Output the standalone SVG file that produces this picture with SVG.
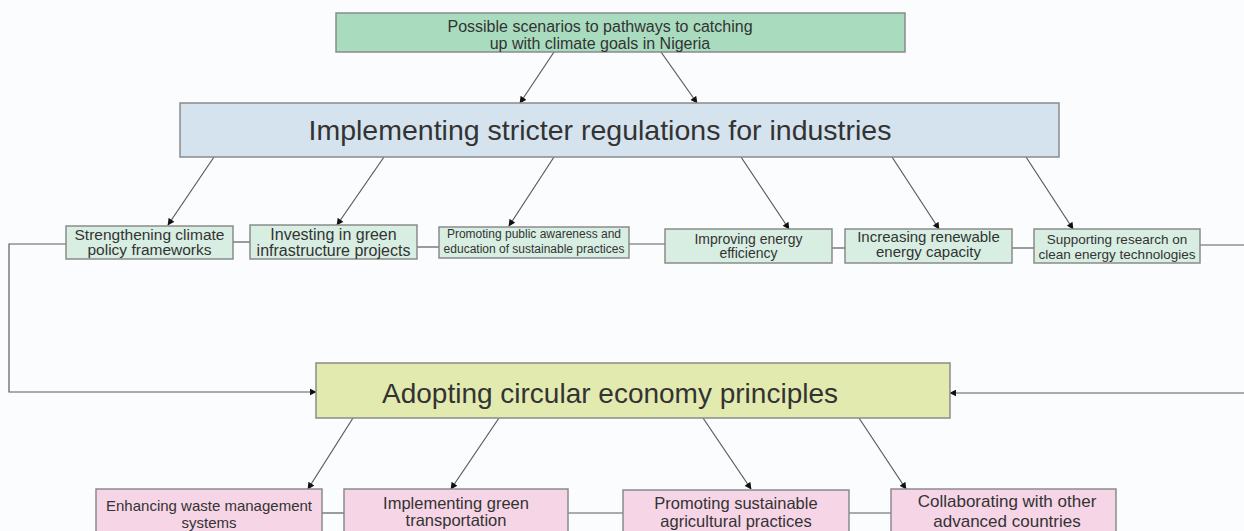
<svg xmlns="http://www.w3.org/2000/svg" width="1244" height="531" viewBox="0 0 1244 531">
  <style>
    text { font-family: "Liberation Sans", Arial, sans-serif; fill: #333; text-anchor: middle; }
    .box { stroke: #8a8a8a; stroke-width: 1.5; }
    .top { fill: #a9dcbf; }
    .blue { fill: #d5e3ee; }
    .lg { fill: #d8eee2; }
    .yg { fill: #e2eab0; }
    .pink { fill: #f6d5e6; }
    .conn { stroke: #5a5a5a; stroke-width: 1.2; fill: none; }
    .arr { marker-end: url(#ah); }
  </style>
  <defs>
    <marker id="ah" viewBox="0 0 10 10" refX="9" refY="5" markerWidth="7" markerHeight="7" markerUnits="userSpaceOnUse" orient="auto">
      <path d="M0,0 L10,5 L0,10 z" fill="#111"/>
    </marker>
  </defs>
  <rect width="1244" height="531" fill="#fbfcfe"/>

  <g id="connectors">
    <line class="conn arr" x1="554" y1="52" x2="520" y2="103"/>
    <line class="conn arr" x1="661" y1="52" x2="697" y2="103"/>
    <line class="conn arr" x1="214" y1="157" x2="168" y2="225"/>
    <line class="conn arr" x1="384" y1="157" x2="337" y2="225"/>
    <line class="conn arr" x1="554" y1="157" x2="509" y2="226"/>
    <line class="conn arr" x1="741" y1="157" x2="789" y2="229"/>
    <line class="conn arr" x1="892" y1="157" x2="939" y2="229"/>
    <line class="conn arr" x1="1026" y1="157" x2="1073" y2="229"/>
    <line class="conn" x1="233" y1="242" x2="250" y2="242"/>
    <line class="conn" x1="417" y1="247" x2="439" y2="247"/>
    <line class="conn" x1="629" y1="244" x2="665" y2="244"/>
    <line class="conn" x1="832" y1="248" x2="845" y2="248"/>
    <line class="conn" x1="1012" y1="248" x2="1034" y2="248"/>
    <line class="conn" x1="1200" y1="245" x2="1250" y2="245"/>
    <polyline class="conn arr" points="66,244 9,244 9,392 316,392"/>
    <line class="conn arr" x1="1250" y1="393" x2="950" y2="393"/>
    <line class="conn arr" x1="353" y1="418" x2="308" y2="489"/>
    <line class="conn arr" x1="499" y1="418" x2="451" y2="489"/>
    <line class="conn arr" x1="703" y1="418" x2="751" y2="489"/>
    <line class="conn arr" x1="859" y1="418" x2="906" y2="489"/>
    <line class="conn" x1="322" y1="513" x2="344" y2="513"/>
    <line class="conn" x1="568" y1="513" x2="623" y2="513"/>
    <line class="conn" x1="849" y1="513" x2="891" y2="513"/>
  </g>

  <g id="root">
    <rect class="box top" x="336" y="13" width="569" height="39"/>
    <text x="600" y="31.5" font-size="16">Possible scenarios to pathways to catching</text>
    <text x="600" y="48.5" font-size="16">up with climate goals in Nigeria</text>
  </g>

  <g id="regulations">
    <rect class="box blue" x="180" y="103" width="879" height="54"/>
    <text x="600" y="140" font-size="28.5">Implementing stricter regulations for industries</text>
  </g>

  <g id="n-policy">
    <rect class="box lg" x="66" y="226" width="167" height="33"/>
    <text x="149.5" y="240" font-size="15.5">Strengthening climate</text>
    <text x="149.5" y="255" font-size="15.5">policy frameworks</text>
  </g>
  <g id="n-infra">
    <rect class="box lg" x="250" y="225" width="167" height="34"/>
    <text x="333.5" y="239.5" font-size="16">Investing in green</text>
    <text x="333.5" y="255.5" font-size="16">infrastructure projects</text>
  </g>
  <g id="n-awareness">
    <rect class="box lg" x="439" y="227" width="190" height="31"/>
    <text x="534" y="238" font-size="12">Promoting public awareness and</text>
    <text x="534" y="253" font-size="12">education of sustainable practices</text>
  </g>
  <g id="n-efficiency">
    <rect class="box lg" x="665" y="229" width="167" height="34"/>
    <text x="748.5" y="244" font-size="14">Improving energy</text>
    <text x="748.5" y="258" font-size="14">efficiency</text>
  </g>
  <g id="n-renewable">
    <rect class="box lg" x="845" y="229" width="167" height="34"/>
    <text x="928.5" y="242" font-size="15">Increasing renewable</text>
    <text x="928.5" y="257" font-size="15">energy capacity</text>
  </g>
  <g id="n-research">
    <rect class="box lg" x="1034" y="229" width="166" height="34"/>
    <text x="1117" y="244" font-size="13.5">Supporting research on</text>
    <text x="1117" y="259" font-size="13.5">clean energy technologies</text>
  </g>

  <g id="circular">
    <rect class="box yg" x="316" y="363" width="634" height="55"/>
    <text x="610" y="403" font-size="28">Adopting circular economy principles</text>
  </g>

  <g id="n-waste">
    <rect class="box pink" x="96" y="489" width="226" height="60"/>
    <text x="209" y="511" font-size="15">Enhancing waste management</text>
    <text x="209" y="527.5" font-size="15">systems</text>
  </g>
  <g id="n-transport">
    <rect class="box pink" x="344" y="489" width="224" height="60"/>
    <text x="456" y="509" font-size="16.5">Implementing green</text>
    <text x="456" y="526" font-size="16.5">transportation</text>
  </g>
  <g id="n-agri">
    <rect class="box pink" x="623" y="490" width="226" height="60"/>
    <text x="736" y="509" font-size="16.5">Promoting sustainable</text>
    <text x="736" y="527" font-size="16.5">agricultural practices</text>
  </g>
  <g id="n-collab">
    <rect class="box pink" x="891" y="489" width="225" height="60"/>
    <text x="1007" y="507" font-size="17">Collaborating with other</text>
    <text x="1007" y="527" font-size="17">advanced countries</text>
  </g>
</svg>
